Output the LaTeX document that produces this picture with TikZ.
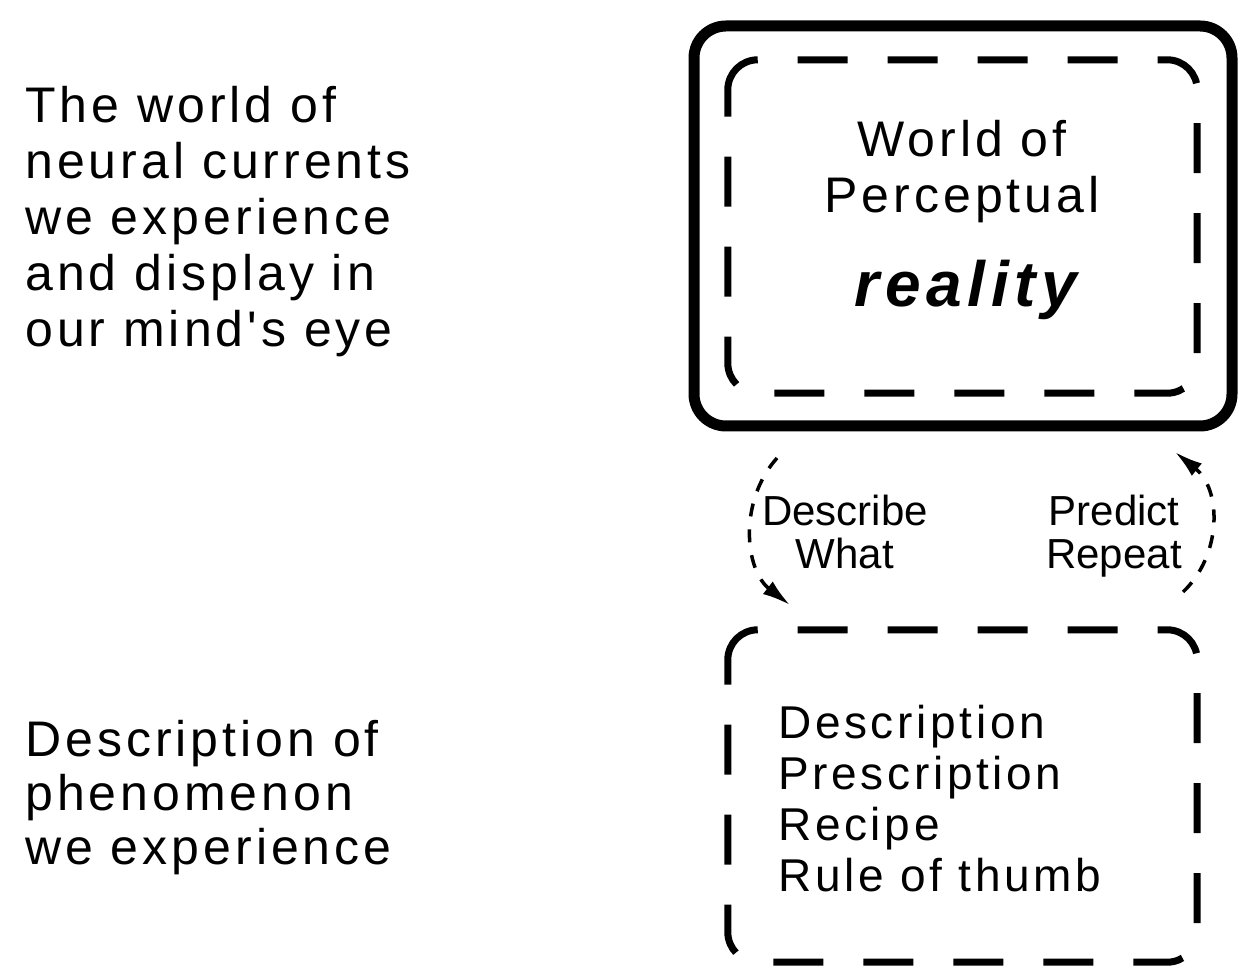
\documentclass[tikz,border=0pt]{standalone}
\usepackage{fontspec}
\setmainfont{Liberation Sans}
\newfontfamily\widefont[LetterSpace=8]{Liberation Sans}
\newfontfamily\plainfont{Liberation Sans}
\usetikzlibrary{arrows.meta,calc}
\tikzset{
  bigtext/.style={inner sep=0pt, align=left, font=\widefont\fontsize{50}{56}\selectfont},
  boxtext/.style={inner sep=0pt, align=left, font=\widefont\fontsize{46}{51}\selectfont},
  arrowtext/.style={inner sep=0pt, align=center, font=\plainfont\fontsize{42}{43}\selectfont},
  outerbox/.style={draw, line width=11pt, rounded corners=32pt, inner sep=0pt},
  boxarea/.style={inner sep=0pt},
  dashline/.style={line width=7pt, rounded corners=30pt, dash pattern=on 50pt off 40pt},
  flowarrow/.style={line width=3.5pt, dash pattern=on 13pt off 13pt,
     -{Latex[length=28pt,width=16pt]}}
}
\begin{document}
\begin{tikzpicture}[x=1pt,y=1pt]
\useasboundingbox[fill=white] (0,0) rectangle (1247,972);

% left texts
\node[bigtext, anchor=north west] (t1) at (25,885.5)
  {The world of\\neural currents\\we experience\\and display in\\our mind's eye};
\node[bigtext, anchor=north west, font=\widefont\fontsize{50}{54}\selectfont] (t2) at (25,251.5)
  {Description of\\phenomenon\\we experience};

% top boxes
\node[outerbox, minimum width=538pt, minimum height=400pt] (outer) at (963,746) {};
\node[boxarea, minimum width=469pt, minimum height=333pt] (inner) at (962.5,745.5) {};
\coordinate (innerstart) at ($(inner.north west)+(0,-33)$);
\draw[dashline] (innerstart) -- (inner.north west) -- (inner.north east)
  -- (inner.south east) -- (inner.south west) -- (innerstart);
\node[bigtext, align=center, anchor=north] (w1) at (962,851.5) {World of\\Perceptual};
\node[inner sep=0pt, anchor=base, font={\widefont\fontsize{64}{70}\selectfont\bfseries\itshape\addfontfeatures{LetterSpace=9}}]
  (real) at (966,665) {reality};

% bottom box
\node[boxarea, minimum width=469pt, minimum height=332pt] (bottom) at (962.5,176) {};
\coordinate (bottomstart) at ($(bottom.north west)+(0,-33)$);
\draw[dashline] (bottomstart) -- (bottom.north west) -- (bottom.north east)
  -- (bottom.south east) -- (bottom.south west) -- (bottomstart);
\node[boxtext, anchor=north west] (b1) at (778,267.5)
  {Description\\Prescription\\Recipe\\Rule of thumb};

% arrow labels
\node[arrowtext, anchor=north] (l1) at (845,477.6) {Describe\\What};
\node[arrowtext, anchor=north] (l2) at (1114,477.6) {Predict\\Repeat};

% connectors
\coordinate (ls) at (777,514);
\coordinate (le) at (790,367);
\coordinate (rs) at (1183,380);
\coordinate (re) at (1175,520);
\draw[flowarrow] (ls) .. controls (738,470) and (745,402) .. (le);
\draw[flowarrow] (rs) .. controls (1222,417) and (1222,482) .. (re);
\end{tikzpicture}
\end{document}
